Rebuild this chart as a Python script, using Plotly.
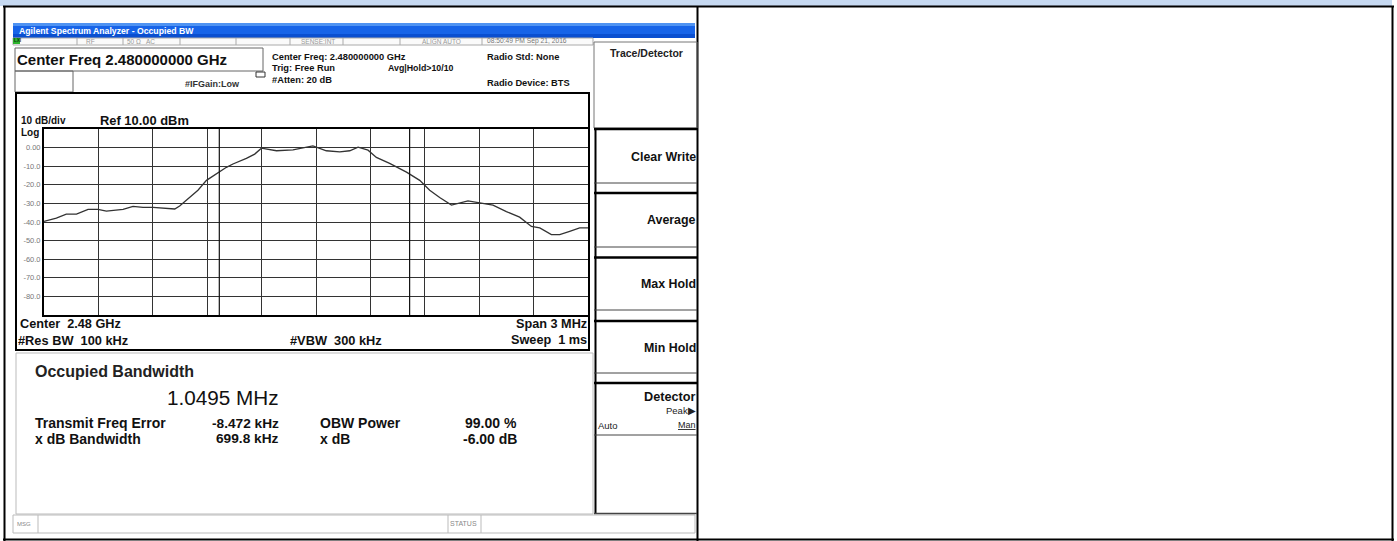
import plotly.graph_objects as go

W, H = 1397, 541
FONT = "Liberation Sans, Arial, sans-serif"

# ---------------- data ----------------
freq_offset_mhz = [-1.500, -1.432, -1.377, -1.321, -1.257, -1.202, -1.156, -1.064, -1.009, -0.954,
                   -0.899, -0.825, -0.779, -0.752, -0.697, -0.651, -0.604, -0.549, -0.494, -0.458,
                   -0.384, -0.338, -0.301, -0.218, -0.127, -0.017, 0.057, 0.131, 0.186, 0.232,
                   0.287, 0.333, 0.406, 0.499, 0.572, 0.627, 0.682, 0.747, 0.792, 0.838,
                   0.903, 0.976, 1.050, 1.123, 1.188, 1.234, 1.298, 1.344, 1.399, 1.454, 1.500]
level_dbm = [-39.7, -37.9, -35.8, -35.8, -33.2, -33.2, -34.1, -33.2, -31.6, -32.1,
             -32.1, -32.6, -33.0, -31.4, -26.8, -22.9, -17.6, -14.1, -10.6, -8.8,
             -5.8, -3.5, -0.3, -1.7, -1.2, 0.9, -1.7, -2.3, -1.7, 0.2,
             -1.4, -5.3, -8.5, -13.2, -17.6, -22.9, -26.8, -30.9, -29.7, -28.6,
             -29.7, -30.9, -34.4, -37.4, -42.4, -43.2, -46.8, -46.8, -45.0, -43.2, -43.2]
y_tick_values = [0, -10, -20, -30, -40, -50, -60, -70, -80]
y_tick_labels = ["0.00", "-10.0", "-20.0", "-30.0", "-40.0", "-50.0", "-60.0", "-70.0", "-80.0"]
x_grid_values = [-1.2, -0.9, -0.6, -0.3, 0.0, 0.3, 0.6, 0.9, 1.2]
span_mhz = 3.0
ref_level_dbm = 10.0
db_per_div = 10.0
center_error_khz = -8.472
obw_mhz = 1.0495

softkey_labels = ["Clear Write", "Average", "Max Hold", "Min Hold"]
result_rows = [("Transmit Freq Error", "-8.472 kHz", "OBW Power", "99.00 %"),
               ("x dB Bandwidth", "699.8 kHz", "x dB", "-6.00 dB")]

# ---------------- helpers ----------------
shapes, anns = [], []


def X(px):
    return px / W


def Y(py):
    return 1 - py / H


def rect(x0, y0, x1, y1, color="black", lw=1, fill=None, layer="above"):
    shapes.append(dict(type="rect", xref="paper", yref="paper", x0=X(x0), x1=X(x1), y0=Y(y1), y1=Y(y0),
                       line=dict(color=color, width=lw) if lw else dict(width=0),
                       fillcolor=fill if fill else "rgba(0,0,0,0)", layer=layer))


def hline(x0, x1, y, color="black", lw=1):
    shapes.append(dict(type="line", xref="paper", yref="paper", x0=X(x0), x1=X(x1), y0=Y(y), y1=Y(y),
                       line=dict(color=color, width=lw)))


def vline(x, y0, y1, color="black", lw=1):
    shapes.append(dict(type="line", xref="paper", yref="paper", x0=X(x), x1=X(x), y0=Y(y0), y1=Y(y1),
                       line=dict(color=color, width=lw)))


def txt(x, y, s, size=8, color="#111", bold=False, anchor="left"):
    anns.append(dict(x=X(x), y=Y(y), xref="paper", yref="paper", text=f"<b>{s}</b>" if bold else s,
                     showarrow=False, xanchor=anchor, yanchor="middle", borderpad=0, borderwidth=0,
                     font=dict(size=size, color=color, family=FONT)))


NB = "\u00a0"

# ---------------- outer table ----------------
rect(0, 0, 1392, 6, lw=0, fill="#C6D9F1", layer="below")
hline(3, 1394, 6.5, lw=2)
vline(4.5, 6, 541, lw=2)
vline(697.5, 6, 541, lw=2)
vline(1392.5, 6, 541, lw=2)
hline(3, 1394, 539.5, lw=2)

# ---------------- analyzer window title bar ----------------
rect(13, 23, 695, 26, lw=0, fill="#4F93F2", layer="below")
rect(13, 26, 695, 34, lw=0, fill="#1764E8", layer="below")
rect(13, 34, 695, 38, lw=0, fill="#0A4FD0", layer="below")
txt(19, 30.5, "Agilent Spectrum Analyzer - Occupied BW", size=8.7, color="white", bold=True)

# status row
rect(13, 38, 593, 45, color="#AAAAAA", lw=1, fill="#FAFAFA", layer="below")
rect(13, 38, 20, 44, lw=0, fill="#2DB52D")
txt(13.5, 41, "LXI", size=4.5, color="#113311", bold=True)
for sx in [77, 123, 180, 236, 290, 343, 400, 482]:
    vline(sx, 38, 45, color="#AAAAAA", lw=1)
txt(86, 41.5, "RF", size=6.5, color="#999")
txt(127, 41.5, "50 Ω", size=6.5, color="#999")
txt(146, 41.5, "AC", size=6.5, color="#999")
txt(301, 41.5, "SENSE:INT", size=6.5, color="#999")
txt(422, 41.5, "ALIGN AUTO", size=6.5, color="#999")
txt(487, 41.5, "08:50:49 PM Sep 21, 2016", size=6.7, color="#777")

# header area
rect(15, 48, 263, 71, color="#666", lw=1)
rect(15, 71, 73, 92, color="#666", lw=1)
txt(17, 60, "Center Freq 2.480000000 GHz", size=15, bold=True)
txt(185, 84, "#IFGain:Low", size=9, color="#333", bold=True)
rect(256, 72, 265, 77, color="#333", lw=1)
txt(272, 57, "Center Freq: 2.480000000 GHz", size=9.3, bold=True)
txt(272, 68, "Trig: Free Run", size=9.3, bold=True)
txt(272, 80, "#Atten: 20 dB", size=9.3, bold=True)
txt(388, 68, "Avg|Hold>10/10", size=8.8, bold=True)
txt(487, 57, "Radio Std: None", size=9.3, bold=True)
txt(487, 83, "Radio Device: BTS", size=9.3, bold=True)

# ---------------- graph panel ----------------
rect(16, 93, 589, 350, lw=2)
txt(21, 121, "10 dB/div", size=10, bold=True)
txt(21, 132.5, "Log", size=10, bold=True)
txt(100, 121, "Ref 10.00 dBm", size=12.9, bold=True)
txt(20, 324, "Center" + NB * 2 + "2.48 GHz", size=12.7, bold=True)
txt(18, 340, "#Res BW" + NB * 2 + "100 kHz", size=12.8, bold=True)
txt(290, 340, "#VBW" + NB * 2 + "300 kHz", size=12.8, bold=True)
txt(587, 324, "Span 3 MHz", size=12.7, bold=True, anchor="right")
txt(587, 340, "Sweep" + NB * 2 + "1 ms", size=12.7, bold=True, anchor="right")

# ---------------- results panel ----------------
rect(16, 353, 593, 514, color="#BBBBBB", lw=1)
txt(35, 371, "Occupied Bandwidth", size=16, bold=True, color="#222")
txt(279, 397, f"{obw_mhz:.4f} MHz", size=20.7, color="#111", anchor="right")
for i, (l1, v1, l2, v2) in enumerate(result_rows):
    yy = 423 + i * 15.5
    txt(35, yy, l1, size=14, bold=True)
    txt(279, yy, v1, size=13.7, bold=True, anchor="right")
    txt(320, yy, l2, size=14, bold=True)
    txt(517, yy, v2, size=14, bold=True, anchor="right")

# MSG bar
rect(13, 515, 695, 533, color="#BBBBBB", lw=1)
vline(38, 515, 533, color="#BBBBBB")
vline(448, 515, 533, color="#BBBBBB")
vline(481, 515, 533, color="#BBBBBB")
txt(17, 524, "MSG", size=6, color="#888")
txt(450, 523, "STATUS", size=7, color="#888")

# ---------------- softkey panel ----------------
rect(594, 42, 697, 128, color="#777", lw=1)
txt(646, 53, "Trace/Detector", size=10.5, bold=True, anchor="center", color="#222")
vline(595.5, 128, 514, lw=2)
key_tops = [129, 193, 257.5, 321, 383]
key_bots = [183, 247, 310, 373, 435]
for t, b in zip(key_tops, key_bots):
    hline(594, 697, t, lw=2.5)
    hline(594, 697, b, color="#444", lw=1)
hline(594, 697, 513.5, color="#444", lw=1.5)
for lbl, t, b in zip(softkey_labels, key_tops, key_bots):
    txt(696, (t + b) / 2 + 0.5, lbl, size=12.4, bold=True, anchor="right")
txt(696, 397, "Detector", size=12.7, bold=True, anchor="right")
txt(696, 410, "Peak▶", size=9.5, anchor="right", color="#222")
txt(598, 425, "Auto", size=9.5, color="#222")
txt(696, 425, "<u>Man</u>", size=9, anchor="right", color="#222")

# ---------------- OBW marker lines (data coords) ----------------
c = center_error_khz / 1000.0
for mx in [c - obw_mhz / 2, c + obw_mhz / 2]:
    shapes.append(dict(type="line", xref="x", yref="y", x0=mx, x1=mx,
                       y0=ref_level_dbm - 10 * db_per_div, y1=ref_level_dbm,
                       line=dict(color="#111", width=1.2)))

# ---------------- figure ----------------
fig = go.Figure()
fig.add_trace(go.Scatter(x=freq_offset_mhz, y=level_dbm, mode="lines",
                         line=dict(color="#333333", width=1.3), hoverinfo="skip"))

fig.update_layout(
    width=W, height=H, margin=dict(l=0, r=0, t=0, b=0),
    paper_bgcolor="white", plot_bgcolor="white", showlegend=False,
    shapes=shapes, annotations=anns,
    xaxis=dict(domain=[X(44), X(588)], range=[-span_mhz / 2, span_mhz / 2],
               tickvals=x_grid_values, showticklabels=False, ticks="",
               showgrid=True, gridcolor="#333", gridwidth=1, zeroline=False,
               showline=True, linecolor="black", linewidth=2, mirror=True, fixedrange=True),
    yaxis=dict(domain=[Y(315), Y(129)],
               range=[ref_level_dbm - 10 * db_per_div, ref_level_dbm],
               tickvals=y_tick_values, ticktext=y_tick_labels, ticks="",
               tickfont=dict(size=7.5, color="#777", family=FONT),
               showgrid=True, gridcolor="#333", gridwidth=1, zeroline=False,
               showline=True, linecolor="black", linewidth=2, mirror=True, fixedrange=True),
)

fig.write_html("out.html", config={"displayModeBar": False},
               post_script="document.body.style.margin='0';document.body.style.overflow='hidden';")
